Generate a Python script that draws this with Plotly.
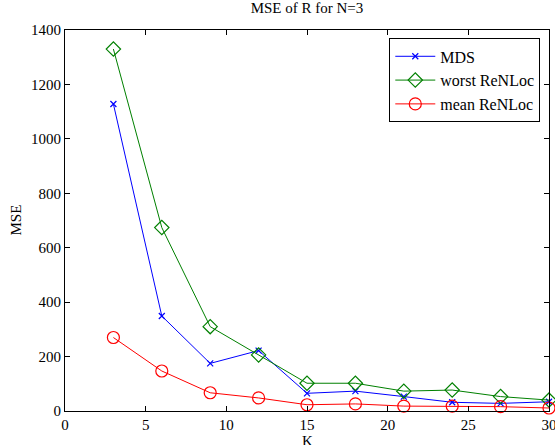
import plotly.graph_objects as go

K = [3, 6, 9, 12, 15, 18, 21, 24, 27, 30]
mds = [1128, 349, 175, 222, 65, 73, 53, 32, 28, 34]
worst = [1330, 674, 310, 206, 102, 102, 73, 77, 53, 40]
mean = [270, 147, 67, 48, 23, 26, 18, 18, 16, 11]

font = "Liberation Serif"

fig = go.Figure()
fig.add_trace(go.Scatter(x=K, y=mds, mode="lines+markers", name="MDS", cliponaxis=False,
                         line=dict(color="#0000ff", width=1),
                         marker=dict(symbol="x-thin", size=6, line=dict(color="#0000ff", width=1.2))))
fig.add_trace(go.Scatter(x=K, y=worst, mode="lines+markers", name="worst ReNLoc", cliponaxis=False,
                         line=dict(color="#008000", width=1),
                         marker=dict(symbol="diamond-open", size=11, color="#008000", line=dict(width=1.2))))
fig.add_trace(go.Scatter(x=K, y=mean, mode="lines+markers", name="mean ReNLoc", cliponaxis=False,
                         line=dict(color="#ff0000", width=1),
                         marker=dict(symbol="circle-open", size=12, color="#ff0000", line=dict(width=1.2))))

axis_common = dict(showline=True, linecolor="black", linewidth=1, mirror="ticks",
                   ticks="inside", ticklen=5, tickcolor="black", showgrid=False,
                   zeroline=False, automargin=False, ticklabeloverflow="allow",
                   tickfont=dict(family=font, size=15, color="black"))

fig.update_layout(
    width=555, height=445,
    margin=dict(l=65, r=6, t=30, b=34),
    paper_bgcolor="white", plot_bgcolor="white",
    font=dict(family=font, size=15, color="black"),
    title=dict(text="MSE of R for N=3", xref="paper", x=0.5, xanchor="center",
               yref="container", y=0.995, yanchor="top",
               font=dict(family=font, size=15, color="black")),
    xaxis=dict(range=[0, 30], dtick=5, **axis_common),
    yaxis=dict(range=[0, 1400], dtick=200, **axis_common),
    legend=dict(x=0.982, y=0.978, xanchor="right", yanchor="top",
                bordercolor="black", borderwidth=1, bgcolor="white",
                font=dict(family=font, size=16), tracegroupgap=0, itemwidth=40),
    showlegend=True,
    annotations=[
        dict(text="K", xref="paper", yref="paper", x=0.5, y=0, xanchor="center",
             yanchor="top", yshift=-20, showarrow=False, font=dict(family=font, size=15)),
        dict(text="MSE", xref="paper", yref="paper", x=0, y=0.5, xanchor="center",
             yanchor="middle", xshift=-50, textangle=-90, showarrow=False,
             font=dict(family=font, size=15)),
    ],
)

fig.write_html("out.html", config={"displayModeBar": False},
               post_script="document.body.style.margin='0';document.body.style.overflow='hidden';")
